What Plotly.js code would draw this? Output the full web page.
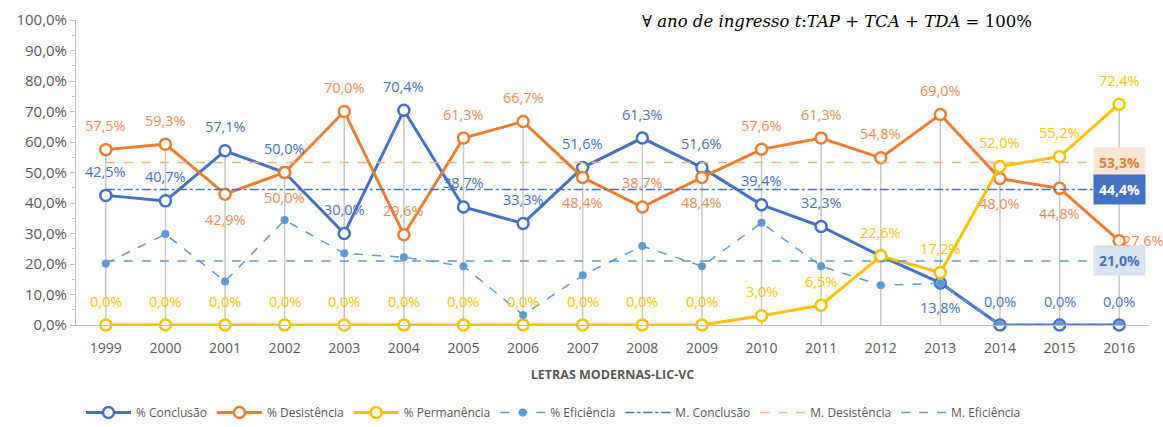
<!DOCTYPE html>
<html>
<head>
<meta charset="utf-8">
<script src="https://cdn.plot.ly/plotly-3.0.1.min.js"></script>
<style>html,body{margin:0;padding:0;background:#fff;}#chart{width:1163px;height:427px;}</style>
</head>
<body>
<div id="chart"></div>
<script>
const years = [1999,2000,2001,2002,2003,2004,2005,2006,2007,2008,2009,2010,2011,2012,2013,2014,2015,2016];
const conclusao   = [42.5,40.7,57.1,50.0,30.0,70.4,38.7,33.3,51.6,61.3,51.6,39.4,32.3,22.6,13.8,0.0,0.0,0.0];
const desistencia = [57.5,59.3,42.9,50.0,70.0,29.6,61.3,66.7,48.4,38.7,48.4,57.6,61.3,54.8,69.0,48.0,44.8,27.6];
const permanencia = [0.0,0.0,0.0,0.0,0.0,0.0,0.0,0.0,0.0,0.0,0.0,3.0,6.5,22.6,17.2,52.0,55.2,72.4];
const eficiencia  = [20.2,29.8,14.3,34.4,23.5,22.2,19.3,3.3,16.3,25.9,19.3,33.5,19.3,13.0,13.7,0.0,0.0,0.0];
const mediaConclusao = 44.4;
const mediaDesistencia = 53.3;
const mediaEficiencia = 21.0;
const yTicks = [0,10,20,30,40,50,60,70,80,90,100];

// label placement: t = above, b = below, r = right, n = hidden (covered in the original)
const posConclusao = ['t','t','t','t','t','t','t','t','t','t','t','t','t','n','b','t','t','t'];
const posDesist    = ['t','t','b','b','t','t','t','t','b','t','b','t','t','t','t','b','b','r'];
const posPerm      = ['t','t','t','t','t','t','t','t','t','t','t','t','t','t','t','t','t','t'];

const fmt = v => v.toFixed(1).replace('.', ',') + '%';
const C_BLUE='#4472C4', C_OR='#ED7D31', C_YEL='#FFC000', C_LB='#5B9BD5';
const FONT = 'Open Sans, Noto Sans, sans-serif';

// drop lines from highest series point down to the axis
const dropX = [], dropY = [];
years.forEach((y,i)=>{
  const m = Math.max(conclusao[i], desistencia[i], permanencia[i]);
  dropX.push(y, y, null); dropY.push(0, m, null);
});

function mainTrace(name, vals, color) {
  return {
    type:'scatter', mode:'lines+markers', name, x:years, y:vals,
    line:{color, width:3},
    marker:{symbol:'circle', size:11, color:'#ffffff', line:{color, width:2.5}},
    cliponaxis:false
  };
}
function labels(vals, color, pos) {
  const out = [];
  vals.forEach((v,i)=>{
    if (pos[i]==='n') return;
    out.push({
      x:years[i], y:v, text:fmt(v), showarrow:false,
      xanchor: pos[i]==='r' ? 'left' : 'center',
      xshift: pos[i]==='r' ? 2 : 0,
      yshift: pos[i]==='t' ? 24 : (pos[i]==='b' ? -25 : 0),
      font:{family:FONT, size:14.5, color}
    });
  });
  return out;
}

const traces = [
  {type:'scatter', mode:'lines', x:dropX, y:dropY, line:{color:'#C8C8C8', width:1.5}, showlegend:false, hoverinfo:'skip'},
  mainTrace('% Conclusão', conclusao, C_BLUE),
  mainTrace('% Desistência', desistencia, C_OR),
  mainTrace('% Permanência', permanencia, C_YEL),
  {type:'scatter', mode:'lines+markers', name:'% Eficiência', x:years, y:eficiencia,
   line:{color:C_LB, width:1.5, dash:'dash'}, marker:{symbol:'circle', size:8, color:C_LB}},
  {type:'scatter', mode:'lines', name:'M. Conclusão', x:years, y:years.map(()=>mediaConclusao),
   line:{color:C_BLUE, width:1.5, dash:'dashdot'}},
  {type:'scatter', mode:'lines', name:'M. Desistência', x:years, y:years.map(()=>mediaDesistencia),
   line:{color:'#F4B183', width:1.5, dash:'dash'}},
  {type:'scatter', mode:'lines', name:'M. Eficiência', x:years, y:years.map(()=>mediaEficiencia),
   line:{color:C_LB, width:1.5, dash:'dash'}}
];

const last = years[years.length-1];
const annotations = [].concat(
  labels(conclusao, C_BLUE, posConclusao),
  labels(desistencia, '#F08A4B', posDesist),
  labels(permanencia, C_YEL, posPerm),
  [
    {xref:'paper', yref:'paper', x:0.709, y:0.995, xanchor:'center', yanchor:'middle', showarrow:false,
     text:'∀ <i>ano de ingresso t</i>:<i>TAP</i> + <i>TCA</i> + <i>TDA</i> = 100%',
     font:{family:'DejaVu Serif, Liberation Serif, serif', size:16.5, color:'#000000'}},
    {x:last, y:mediaDesistencia, showarrow:false, text:'<b>'+fmt(mediaDesistencia)+'</b>',
     bgcolor:'#FBE5D6', borderpad:5, font:{family:FONT, size:14, color:C_OR}},
    {x:last, y:mediaConclusao, showarrow:false, text:'<b>'+fmt(mediaConclusao)+'</b>',
     bgcolor:C_BLUE, borderpad:5, font:{family:FONT, size:14, color:'#ffffff'}},
    {x:last, y:mediaEficiencia, showarrow:false, text:'<b>'+fmt(mediaEficiencia)+'</b>',
     bgcolor:'#DAE3F3', borderpad:5, font:{family:FONT, size:14, color:C_BLUE}}
  ]
);

const layout = {
  width:1163, height:427,
  margin:{l:76, r:14, t:20, b:102},
  paper_bgcolor:'#ffffff', plot_bgcolor:'#ffffff',
  font:{family:FONT, color:'#595959'},
  showlegend:true,
  legend:{orientation:'h', x:0.445, xanchor:'center', yref:'container', y:0, yanchor:'bottom',
          font:{family:FONT, size:12, color:'#595959'}, itemwidth:45, traceorder:'normal'},
  xaxis:{type:'linear', range:[years[0]-0.5, last+0.5], showgrid:false, zeroline:false, showline:true,
         linecolor:'#BFBFBF', linewidth:1, tickvals:years, ticktext:years.map(String),
         ticks:'', ticklabelstandoff:10, tickfont:{family:FONT, size:14, color:'#595959'},
         title:{text:'<b>LETRAS MODERNAS-LIC-VC</b>', font:{family:FONT, size:12.5, color:'#595959'}, standoff:14}},
  yaxis:{range:[0,100], showgrid:false, zeroline:false, showline:true, linecolor:'#BFBFBF', linewidth:1,
         tickvals:yTicks, ticktext:yTicks.map(fmt), ticks:'outside', ticklen:5, tickcolor:'#BFBFBF',
         minor:{dtick:5, ticks:'outside', ticklen:3, tickcolor:'#BFBFBF'},
         tickfont:{family:FONT, size:15, color:'#595959'}},
  annotations
};

Plotly.newPlot('chart', traces, layout, {displayModeBar:false, staticPlot:true});
</script>
</body>
</html>
